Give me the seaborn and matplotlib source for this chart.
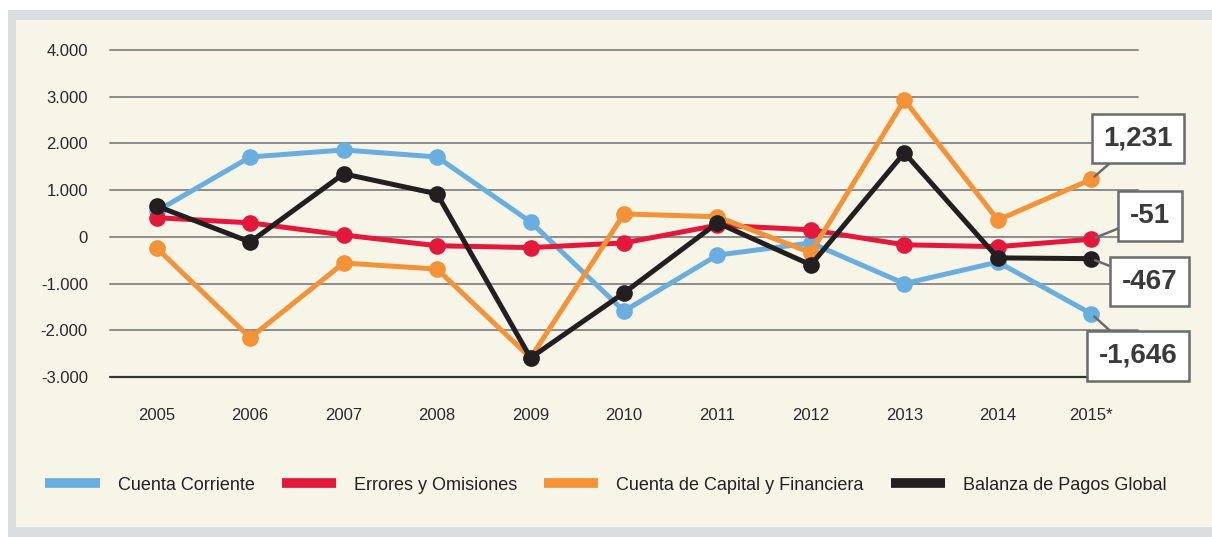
import pandas as pd
import matplotlib.pyplot as plt
import seaborn as sns
from matplotlib.patches import Rectangle
from matplotlib.lines import Line2D

years = ['2005', '2006', '2007', '2008', '2009', '2010', '2011', '2012', '2013', '2014', '2015*']
cuenta_corriente = [550, 1710, 1860, 1710, 320, -1590, -390, -130, -1000, -540, -1646]
errores_omisiones = [410, 300, 40, -190, -230, -130, 250, 150, -170, -210, -51]
cuenta_capital = [-240, -2160, -560, -690, -2590, 490, 430, -340, 2930, 360, 1231]
balanza_global = [660, -110, 1350, 920, -2590, -1200, 300, -600, 1800, -450, -467]

series_names = ['Cuenta Corriente', 'Errores y Omisiones',
                'Cuenta de Capital y Financiera', 'Balanza de Pagos Global']
colors = ['#6aaee0', '#e4183a', '#f39237', '#231f20']
y_ticks = [4000, 3000, 2000, 1000, 0, -1000, -2000, -3000]
y_labels = ['4.000', '3.000', '2.000', '1.000', '0', '-1.000', '-2.000', '-3.000']
callouts = ['1,231', '-51', '-467', '-1,646']

rows = []
for name, vals in zip(series_names, [cuenta_corriente, errores_omisiones, cuenta_capital, balanza_global]):
    for i, v in enumerate(vals):
        rows.append({'pos': i, 'valor': v, 'serie': name})
df = pd.DataFrame(rows)

sns.set_style('white')
plt.rcParams['font.family'] = ['Liberation Sans', 'DejaVu Sans']

fig = plt.figure(figsize=(12.12, 5.37), dpi=100)
fig.patch.set_facecolor('white')
# gray frame and cream panel
fig.patches.append(Rectangle((8 / 1212, 0), 1, 527 / 537, transform=fig.transFigure,
                             facecolor='#dcdddf', edgecolor='none', zorder=-3))
fig.patches.append(Rectangle((16 / 1212, 10 / 537), 1, 507 / 537, transform=fig.transFigure,
                             facecolor='#f7f5e8', edgecolor='none', zorder=-2))

ax = fig.add_axes([110 / 1212, 160 / 537, 1028 / 1212, 327 / 537])
ax.set_facecolor('none')

for y in y_ticks[:-1]:
    ax.axhline(y, color='#8c8c8c', lw=1.4, zorder=0)
ax.axhline(-3000, color='#333333', lw=1.6, zorder=0)

sns.lineplot(data=df, x='pos', y='valor', hue='serie', hue_order=series_names,
             palette=colors, marker='o', markersize=12, markeredgewidth=0,
             linewidth=3.6, legend=False, ax=ax)
for line in ax.lines:
    line.set_clip_on(False)

ax.set_xlim(-0.5, 10.5)
ax.set_ylim(-3000, 4000)
ax.set_xticks(range(len(years)))
ax.set_xticklabels(years)
ax.set_yticks(y_ticks)
ax.set_yticklabels(y_labels)
ax.tick_params(axis='both', length=0, labelsize=12, colors='#2a2a2a')
ax.tick_params(axis='x', pad=22)
ax.tick_params(axis='y', pad=16)
ax.set_xlabel('')
ax.set_ylabel('')
sns.despine(ax=ax, left=True, bottom=True)

# callout boxes for 2015 values
last_vals = [cuenta_capital[-1], errores_omisiones[-1], balanza_global[-1], cuenta_corriente[-1]]
box_pos = [(10.5, 2100), (10.63, 450), (10.62, -960), (10.5, -2550)]
for text, val, (bx, by) in zip(callouts, last_vals, box_pos):
    ax.annotate(text, xy=(10, val), xytext=(bx, by), textcoords='data',
                ha='center', va='center', fontsize=20, fontweight='bold', color='#3a3a3a',
                bbox=dict(boxstyle='square,pad=0.42', facecolor='white', edgecolor='#6b6b6b', lw=1.8),
                arrowprops=dict(arrowstyle='-', color='#6b6b6b', lw=1.8, shrinkA=0, shrinkB=3),
                annotation_clip=False, zorder=5)

handles = [Line2D([0], [0], color=c, lw=7, solid_capstyle='butt') for c in colors]
fig.legend(handles, series_names, loc='center', bbox_to_anchor=(0.5, 1 - 485 / 537),
           ncol=4, frameon=False, fontsize=13, handlelength=3.0, columnspacing=1.5,
           handletextpad=1.0, labelcolor='#222222')

fig.savefig('out.png', dpi=100, facecolor=fig.get_facecolor())
